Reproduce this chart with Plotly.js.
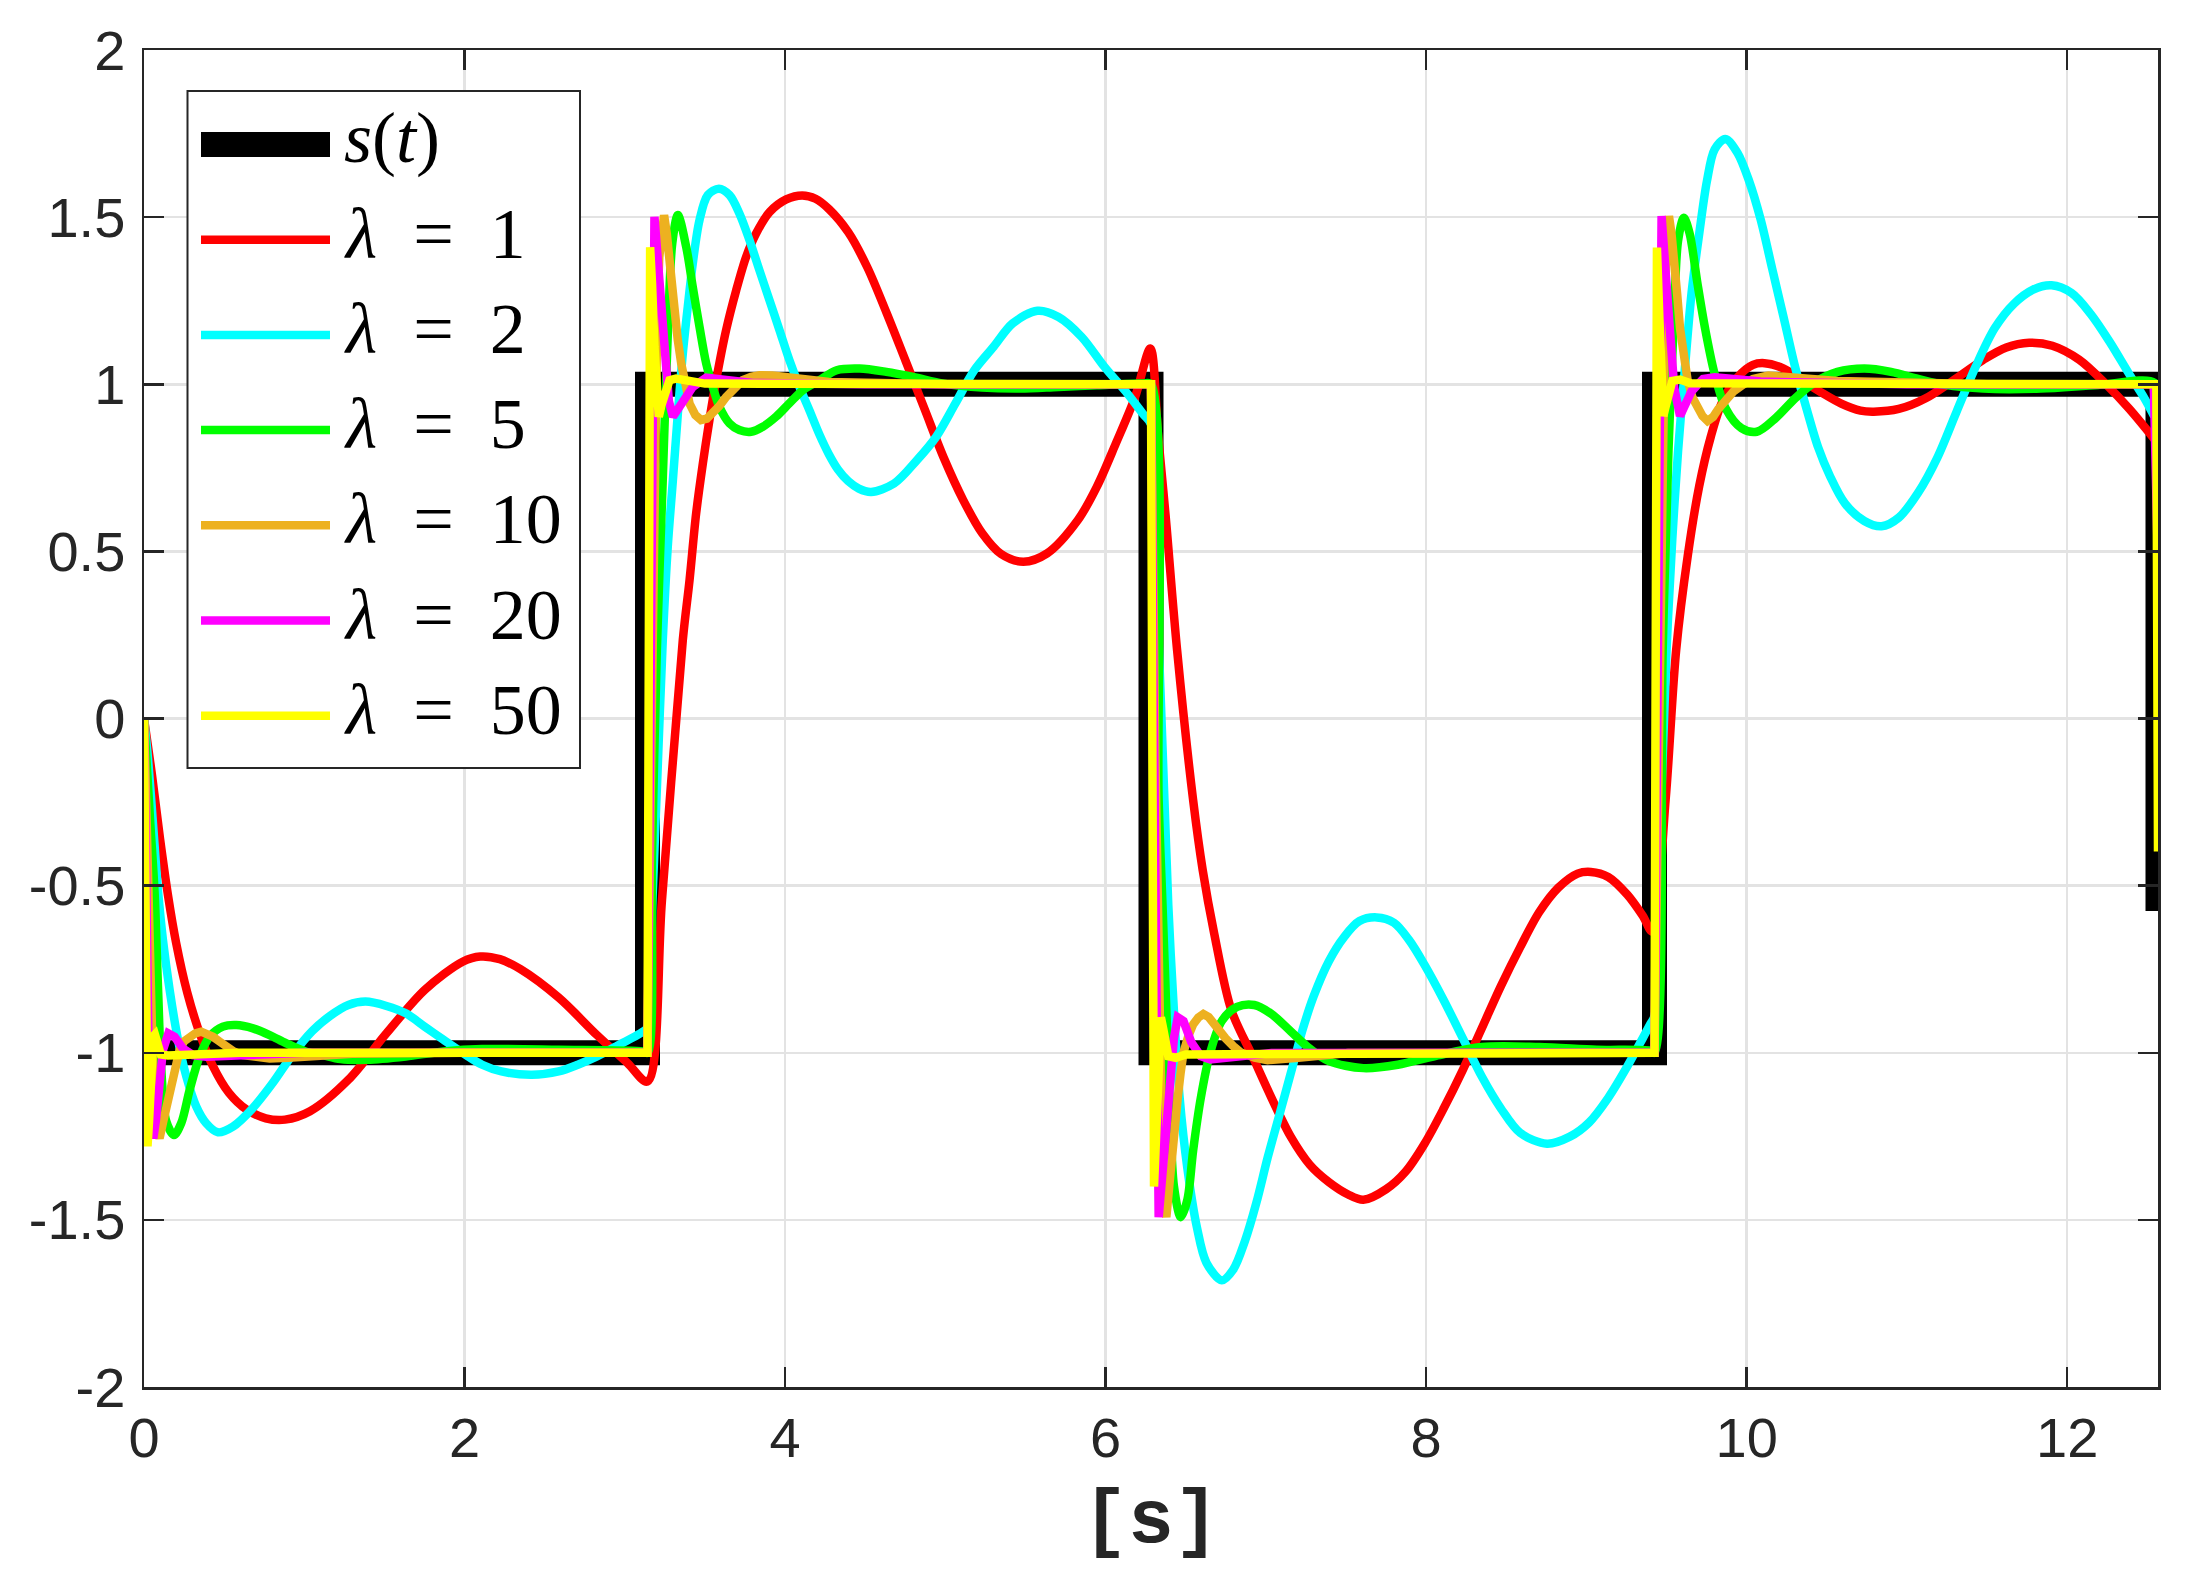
<!DOCTYPE html>
<html>
<head>
<meta charset="utf-8">
<script src="https://cdn.plot.ly/plotly-3.0.1.min.js"></script>
<style>
	html, body { margin: 0; padding: 0; background: #fff; }
	#chart { width: 2202px; height: 1584px; }
</style>
</head>
<body>
<div id="chart"></div>
<script>
(function () {

	'use strict';

	/*
	Values
	*/

	// s(t) - square wave
	const tSquare = [0.12, 3.1416, 3.1416, 6.2832, 6.2832, 9.4248, 9.4248, 12.5664, 12.5664];
	const ySquare = [-1, -1, 1, 1, -1, -1, 1, 1, -0.576];

	// lambda = 1
	const tLam1 = [0, 0.05, 0.1, 0.15, 0.2, 0.27, 0.35, 0.43, 0.53, 0.64, 0.76, 0.88, 1.036, 1.275, 1.513, 1.752, 1.991, 2.098, 2.22, 2.349, 2.587, 2.826, 3.017, 3.141, 3.232, 3.362, 3.404, 3.445, 3.487, 3.528, 3.570, 3.632, 3.695, 3.757, 3.819, 3.903, 4.007, 4.107, 4.19, 4.274, 4.394, 4.513, 4.632, 4.752, 4.871, 4.990, 5.110, 5.229, 5.348, 5.487, 5.635, 5.826, 5.945, 6.064, 6.184, 6.279, 6.327, 6.375, 6.446, 6.546, 6.606, 6.677, 6.785, 6.916, 7.035, 7.155, 7.274, 7.393, 7.513, 7.608, 7.751, 7.871, 7.990, 8.109, 8.229, 8.348, 8.467, 8.587, 8.706, 8.825, 8.945, 9.028, 9.136, 9.255, 9.351, 9.410, 9.494, 9.560, 9.632, 9.704, 9.776, 9.847, 9.943, 10.039, 10.111, 10.231, 10.350, 10.470, 10.590, 10.710, 10.793, 10.949, 11.117, 11.284, 11.476, 11.620, 11.763, 11.907, 12.075, 12.242, 12.386, 12.542];
	const yLam1 = [0, -0.17, -0.36, -0.53, -0.67, -0.82, -0.945, -1.04, -1.12, -1.17, -1.196, -1.2, -1.175, -1.081, -0.942, -0.812, -0.727, -0.712, -0.72, -0.75, -0.835, -0.947, -1.031, -1.086, -0.543, 0.235, 0.414, 0.613, 0.763, 0.893, 1.012, 1.162, 1.281, 1.381, 1.451, 1.515, 1.553, 1.565, 1.555, 1.524, 1.455, 1.35, 1.215, 1.07, 0.925, 0.78, 0.655, 0.555, 0.492, 0.469, 0.494, 0.593, 0.693, 0.823, 0.962, 1.107, 0.85, 0.603, 0.205, -0.244, -0.454, -0.642, -0.873, -1.01, -1.135, -1.251, -1.335, -1.387, -1.424, -1.440, -1.408, -1.356, -1.272, -1.167, -1.051, -0.926, -0.800, -0.684, -0.579, -0.506, -0.464, -0.459, -0.474, -0.527, -0.590, -0.637, -0.244, 0.205, 0.486, 0.696, 0.843, 0.947, 1.021, 1.058, 1.063, 1.047, 1.010, 0.974, 0.942, 0.921, 0.918, 0.926, 0.958, 1.010, 1.073, 1.110, 1.124, 1.115, 1.073, 1.000, 0.927, 0.837];

	// lambda = 2
	const tLam2 = [0, 0.025, 0.056, 0.087, 0.118, 0.160, 0.212, 0.264, 0.326, 0.388, 0.461, 0.555, 0.680, 0.804, 0.92, 1.05, 1.16, 1.275, 1.382, 1.513, 1.633, 1.752, 1.871, 1.991, 2.110, 2.230, 2.420, 2.587, 2.707, 2.826, 2.946, 3.112, 3.1416, 3.172, 3.205, 3.237, 3.268, 3.300, 3.331, 3.362, 3.393, 3.424, 3.466, 3.518, 3.587, 3.653, 3.715, 3.778, 3.840, 3.903, 3.965, 4.027, 4.090, 4.152, 4.214, 4.274, 4.33, 4.394, 4.46, 4.537, 4.680, 4.823, 4.943, 5.062, 5.181, 5.301, 5.420, 5.575, 5.706, 5.850, 5.993, 6.136, 6.232, 6.2832, 6.32, 6.367, 6.391, 6.426, 6.462, 6.510, 6.570, 6.629, 6.725, 6.796, 6.868, 6.940, 7.011, 7.083, 7.155, 7.226, 7.298, 7.393, 7.489, 7.584, 7.692, 7.799, 7.894, 7.990, 8.109, 8.229, 8.348, 8.467, 8.587, 8.754, 8.897, 9.016, 9.136, 9.255, 9.351, 9.398, 9.4248, 9.46, 9.500, 9.536, 9.572, 9.608, 9.656, 9.704, 9.752, 9.800, 9.867, 9.943, 10.015, 10.087, 10.159, 10.231, 10.302, 10.374, 10.446, 10.518, 10.614, 10.734, 10.841, 10.949, 11.069, 11.189, 11.308, 11.428, 11.548, 11.668, 11.787, 11.902, 12.027, 12.147, 12.266, 12.386, 12.482, 12.542];
	const yLam2 = [0, -0.12, -0.314, -0.513, -0.662, -0.812, -0.961, -1.071, -1.161, -1.211, -1.238, -1.221, -1.165, -1.09, -1.01, -0.935, -0.89, -0.857, -0.847, -0.860, -0.882, -0.922, -0.962, -1.001, -1.036, -1.056, -1.066, -1.056, -1.036, -1.011, -0.981, -0.937, -0.925, -0.55, -0.15, 0.235, 0.514, 0.713, 0.912, 1.092, 1.232, 1.361, 1.491, 1.566, 1.585, 1.566, 1.511, 1.431, 1.341, 1.251, 1.162, 1.072, 0.992, 0.922, 0.85, 0.79, 0.745, 0.71, 0.688, 0.678, 0.703, 0.773, 0.843, 0.942, 1.042, 1.112, 1.182, 1.220, 1.2015, 1.142, 1.052, 0.972, 0.912, 0.88, 0.38, -0.244, -0.558, -0.873, -1.135, -1.345, -1.523, -1.628, -1.681, -1.649, -1.565, -1.450, -1.314, -1.188, -1.062, -0.936, -0.831, -0.726, -0.653, -0.606, -0.595, -0.611, -0.663, -0.737, -0.842, -0.957, -1.072, -1.167, -1.240, -1.272, -1.251, -1.209, -1.135, -1.041, -0.957, -0.915, -0.89, -0.35, 0.205, 0.538, 0.801, 1.010, 1.273, 1.451, 1.608, 1.703, 1.734, 1.692, 1.608, 1.493, 1.346, 1.199, 1.052, 0.926, 0.811, 0.727, 0.643, 0.591, 0.575, 0.601, 0.675, 0.780, 0.916, 1.052, 1.168, 1.241, 1.283, 1.296, 1.273, 1.210, 1.126, 1.031, 0.958, 0.905];

	// lambda = 5
	const tLam5 = [0, 0.02, 0.04, 0.066, 0.087, 0.108, 0.139, 0.187, 0.232, 0.285, 0.347, 0.409, 0.492, 0.576, 0.680, 0.784, 0.888, 1.012, 1.107, 1.227, 1.394, 1.633, 1.871, 2.110, 2.587, 3.112, 3.1416, 3.17, 3.200, 3.236, 3.272, 3.296, 3.331, 3.383, 3.424, 3.466, 3.508, 3.549, 3.591, 3.653, 3.715, 3.788, 3.861, 3.944, 4.027, 4.110, 4.214, 4.322, 4.465, 4.632, 4.799, 4.990, 5.229, 5.468, 5.706, 5.945, 6.232, 6.2832, 6.331, 6.355, 6.379, 6.403, 6.426, 6.469, 6.510, 6.546, 6.594, 6.653, 6.725, 6.820, 6.928, 7.035, 7.155, 7.274, 7.393, 7.608, 7.823, 8.062, 8.348, 8.706, 9.064, 9.398, 9.4248, 9.476, 9.512, 9.548, 9.572, 9.608, 9.644, 9.692, 9.740, 9.800, 9.871, 9.967, 10.063, 10.183, 10.302, 10.422, 10.566, 10.734, 10.901, 11.069, 11.237, 11.476, 11.835, 12.194, 12.542, 12.5664];
	const yLam5 = [0, -0.16, -0.32, -0.52, -0.80, -1.05, -1.205, -1.246, -1.211, -1.111, -1.011, -0.952, -0.922, -0.917, -0.927, -0.947, -0.972, -0.997, -1.006, -1.019, -1.021, -1.011, -0.996, -0.989, -0.991, -0.996, -1.0, -0.4, 0.205, 0.703, 1.2015, 1.421, 1.506, 1.411, 1.291, 1.172, 1.062, 0.992, 0.932, 0.883, 0.863, 0.858, 0.873, 0.903, 0.943, 0.982, 1.012, 1.042, 1.047, 1.037, 1.022, 1.002, 0.990, 0.987, 0.992, 0.997, 1.002, 1.0, -0.244, -0.558, -0.873, -1.188, -1.398, -1.492, -1.440, -1.293, -1.135, -0.999, -0.905, -0.863, -0.857, -0.884, -0.936, -0.988, -1.025, -1.046, -1.036, -1.009, -0.983, -0.983, -0.991, -0.994, -1.0, 0.205, 0.801, 1.220, 1.430, 1.498, 1.451, 1.304, 1.168, 1.031, 0.926, 0.869, 0.858, 0.900, 0.958, 1.005, 1.037, 1.047, 1.037, 1.016, 0.998, 0.987, 0.987, 0.998, 1.005, 0.95];

	// lambda = 10
	const tLam10 = [0, 0.02, 0.04, 0.06, 0.08, 0.097, 0.118, 0.139, 0.160, 0.180, 0.200, 0.222, 0.250, 0.285, 0.320, 0.357, 0.395, 0.430, 0.470, 0.513, 0.560, 0.617, 0.700, 0.784, 0.900, 1.012, 1.3, 2.0, 3.1416, 3.165, 3.19, 3.203, 3.215, 3.230, 3.245, 3.262, 3.279, 3.295, 3.310, 3.330, 3.352, 3.378, 3.404, 3.440, 3.476, 3.512, 3.549, 3.590, 3.632, 3.684, 3.736, 3.788, 3.840, 3.920, 4.007, 4.140, 4.274, 5.0, 6.2832, 6.31, 6.335, 6.355, 6.367, 6.379, 6.397, 6.415, 6.432, 6.450, 6.468, 6.486, 6.516, 6.546, 6.578, 6.610, 6.643, 6.677, 6.713, 6.749, 6.796, 6.844, 6.930, 7.011, 7.202, 7.513, 9.4248, 9.45, 9.475, 9.495, 9.505, 9.515, 9.531, 9.548, 9.566, 9.584, 9.608, 9.632, 9.662, 9.692, 9.724, 9.756, 9.790, 9.823, 9.870, 9.919, 9.980, 10.039, 10.135, 10.230, 10.326, 10.566, 11.5, 12.54, 12.5664];
	const yLam10 = [0, -0.45, -0.85, -1.12, -1.23, -1.256, -1.21, -1.161, -1.108, -1.061, -1.02, -0.992, -0.966, -0.952, -0.942, -0.937, -0.942, -0.952, -0.966, -0.982, -0.996, -1.007, -1.014, -1.017, -1.015, -1.012, -1.003, -1.0, -1.0, -0.1, 0.95, 1.22, 1.38, 1.47, 1.506, 1.45, 1.361, 1.285, 1.212, 1.135, 1.062, 0.995, 0.942, 0.908, 0.893, 0.897, 0.913, 0.935, 0.962, 0.99, 1.012, 1.022, 1.027, 1.026, 1.022, 1.013, 1.007, 1.0, 1.0, -0.1, -1.0, -1.35, -1.45, -1.492, -1.40, -1.293, -1.21, -1.135, -1.06, -0.999, -0.95, -0.915, -0.895, -0.884, -0.893, -0.915, -0.936, -0.957, -0.98, -0.999, -1.015, -1.022, -1.015, -1.001, -1.0, -0.1, 0.95, 1.35, 1.45, 1.503, 1.45, 1.378, 1.27, 1.168, 1.08, 1.010, 0.96, 0.926, 0.905, 0.890, 0.902, 0.926, 0.953, 0.979, 1.0, 1.016, 1.026, 1.024, 1.019, 1.010, 1.0, 1.0, 0.75];

	// lambda = 20
	const tLam20 = [0, 0.015, 0.03, 0.045, 0.058, 0.075, 0.097, 0.118, 0.152, 0.191, 0.243, 0.305, 0.388, 0.576, 1.0, 3.1416, 3.155, 3.17, 3.185, 3.216, 3.248, 3.275, 3.300, 3.352, 3.424, 3.508, 3.591, 3.797, 4.5, 6.2832, 6.297, 6.312, 6.331, 6.367, 6.403, 6.426, 6.450, 6.486, 6.534, 6.594, 6.653, 6.796, 7.035, 9.4248, 9.438, 9.453, 9.469, 9.512, 9.548, 9.584, 9.656, 9.728, 9.800, 9.919, 10.087, 11.0, 12.54, 12.5664];
	const yLam20 = [0, -0.6, -1.05, -1.22, -1.256, -1.2, -1.1, -0.992, -0.942, -0.952, -0.987, -1.007, -1.012, -1.007, -1.0, -1.0, -0.2, 0.9, 1.501, 1.311, 1.092, 0.95, 0.903, 0.942, 0.992, 1.020, 1.017, 1.004, 1.0, 1.0, 0.2, -0.9, -1.492, -1.293, -1.083, -0.957, -0.894, -0.905, -0.968, -1.010, -1.020, -1.012, -1.001, -1.0, -0.2, 0.9, 1.503, 1.220, 0.989, 0.905, 0.979, 1.016, 1.021, 1.016, 1.008, 1.0, 1.0, 0.45];

	// lambda = 50
	const tLam50 = [0, 0.008, 0.015, 0.022, 0.032, 0.045, 0.058, 0.068, 0.085, 0.105, 0.15, 0.3, 0.6, 3.1416, 3.150, 3.158, 3.170, 3.185, 3.198, 3.212, 3.230, 3.248, 3.279, 3.32, 3.383, 3.5, 6.2832, 6.292, 6.302, 6.315, 6.328, 6.345, 6.36, 6.375, 6.391, 6.438, 6.5, 9.4248, 9.432, 9.440, 9.455, 9.468, 9.480, 9.495, 9.512, 9.536, 9.584, 9.65, 12.556, 12.5664];
	const yLam50 = [0, -0.8, -1.2, -1.28, -1.2, -1.02, -0.95, -0.945, -0.98, -1.005, -1.008, -1.005, -1.0, -1.0, 0.2, 1.41, 1.3, 1.112, 0.96, 0.903, 0.94, 0.972, 1.012, 1.017, 1.01, 1.002, 1.0, -0.2, -1.40, -1.25, -1.05, -0.894, -0.93, -0.99, -1.01, -1.015, -1.005, -1.0, 0.2, 1.409, 1.2, 0.98, 0.905, 0.935, 0.98, 1.010, 1.014, 1.003, 1.0, -0.398];

	// axes ticks
	const xTickVals = [0, 2, 4, 6, 8, 10, 12];
	const xTickText = ['0', '2', '4', '6', '8', '10', '12'];
	const yTickVals = [-2, -1.5, -1, -0.5, 0, 0.5, 1, 1.5, 2];
	const yTickText = ['-2', '-1.5', '-1', '-0.5', '0', '0.5', '1', '1.5', '2'];

	// legend
	const lambdas = ['1', '2', '5', '10', '20', '50'];
	const colors = ['#ff0000', '#00ffff', '#00ff00', '#edb120', '#ff00ff', '#ffff00'];

	const axisColor = '#262626';
	const gridColor = '#e3e3e3';

	// page + plot box (px)
	const W = 2202, H = 1584;
	const margin = { l: 144, r: 44, t: 50, b: 197, pad: 0 };

	// px -> paper
	const paperX = ( px ) => ( px - margin.l ) / ( W - margin.l - margin.r );
	const paperY = ( py ) => ( H - margin.b - py ) / ( H - margin.t - margin.b );

	/**
	* Build data traces
	* @returns {Array} for Plotly data
	*/
	const dataTraces = () => {

		const square = {
			x: tSquare,
			y: ySquare,
			name: 's(t)',
			mode: 'lines',
			line: { color: '#000000', width: 25 },
			showlegend: false,
			type: 'scatter'
		};

		const series = [
			[ tLam1, yLam1, 'spline' ],
			[ tLam2, yLam2, 'spline' ],
			[ tLam5, yLam5, 'spline' ],
			[ tLam10, yLam10, 'linear' ],
			[ tLam20, yLam20, 'linear' ],
			[ tLam50, yLam50, 'linear' ],
		];

		const responses = series.map(( s, i ) => ({
			x: s[0],
			y: s[1],
			name: 'λ = ' + lambdas[i],
			mode: 'lines',
			line: { color: colors[i], width: 8.5, shape: s[2], smoothing: 0.9 },
			showlegend: false,
			type: 'scatter'
		}));

		return [ square ].concat( responses );
	};

	/**
	* Legend drawn as a box of shapes + annotations
	* (plotly clips legend line widths, MATLAB's s(t) bar is fat)
	*/
	const legendParts = () => {

		const shapes = [{
			type: 'rect',
			xref: 'paper', yref: 'paper',
			x0: paperX( 187.5 ), x1: paperX( 580 ),
			y0: paperY( 768 ), y1: paperY( 91 ),
			fillcolor: '#ffffff',
			line: { color: axisColor, width: 2 },
			layer: 'above'
		}];
		const annotations = [];

		const labels = [ '<i>s</i>(<i>t</i>)' ].concat( lambdas.map( l => '<i>λ</i>\u2002=\u2002' + l ));
		const lineColors = [ '#000000' ].concat( colors );

		labels.forEach(( label, i ) => {
			const rowY = 144.4 + i * 95.24;
			shapes.push({
				type: 'line',
				xref: 'paper', yref: 'paper',
				x0: paperX( 201 ), x1: paperX( 330 ),
				y0: paperY( rowY ), y1: paperY( rowY ),
				line: { color: lineColors[i], width: i === 0 ? 25 : 8.5 },
				layer: 'above'
			});
			annotations.push({
				text: label,
				xref: 'paper', yref: 'paper',
				x: paperX( 342 ), y: paperY( rowY ),
				xanchor: 'left', yanchor: 'middle',
				yshift: 6,
				showarrow: false,
				font: { family: 'Liberation Serif, Times New Roman, serif', size: 72, color: '#000000' }
			});
		});

		return { shapes, annotations };
	};

	/**
	* Axis template (MATLAB-ish boxed axes)
	*/
	const getAxis = ( range, vals, text ) => ({
		range,
		tickmode: 'array',
		tickvals: vals,
		ticktext: text,
		ticks: 'inside',
		ticklen: 20,
		tickwidth: 2.5,
		tickcolor: axisColor,
		showline: true,
		linecolor: axisColor,
		linewidth: 2.5,
		mirror: 'ticks',
		showgrid: true,
		gridcolor: gridColor,
		gridwidth: 2.5,
		zeroline: false,
		fixedrange: true,
		tickfont: { family: 'Liberation Sans, Arial, sans-serif', size: 56, color: axisColor },
	});

	const x1 = getAxis([ 0, 12.5664 ], xTickVals, xTickText );
	x1.ticklabelstandoff = 0;
	x1.title = {
		text: '<b>[s]</b>',
		font: { family: 'Liberation Mono, Courier New, monospace', size: 76, color: axisColor },
		standoff: 21
	};

	const y1 = getAxis([ -2, 2 ], yTickVals, yTickText );
	y1.ticklabelstandoff = 5;

	const legend = legendParts();

	const layout = {
		width: W,
		height: H,
		autosize: false,
		margin,
		paper_bgcolor: '#ffffff',
		plot_bgcolor: '#ffffff',
		showlegend: false,
		xaxis: x1,
		yaxis: y1,
		shapes: legend.shapes,
		annotations: legend.annotations,
	};

	Plotly.newPlot(
		document.getElementById('chart'),
		dataTraces(),
		layout,
		{ displayModeBar: false, responsive: false, staticPlot: true }
	);

})();
</script>
</body>
</html>
